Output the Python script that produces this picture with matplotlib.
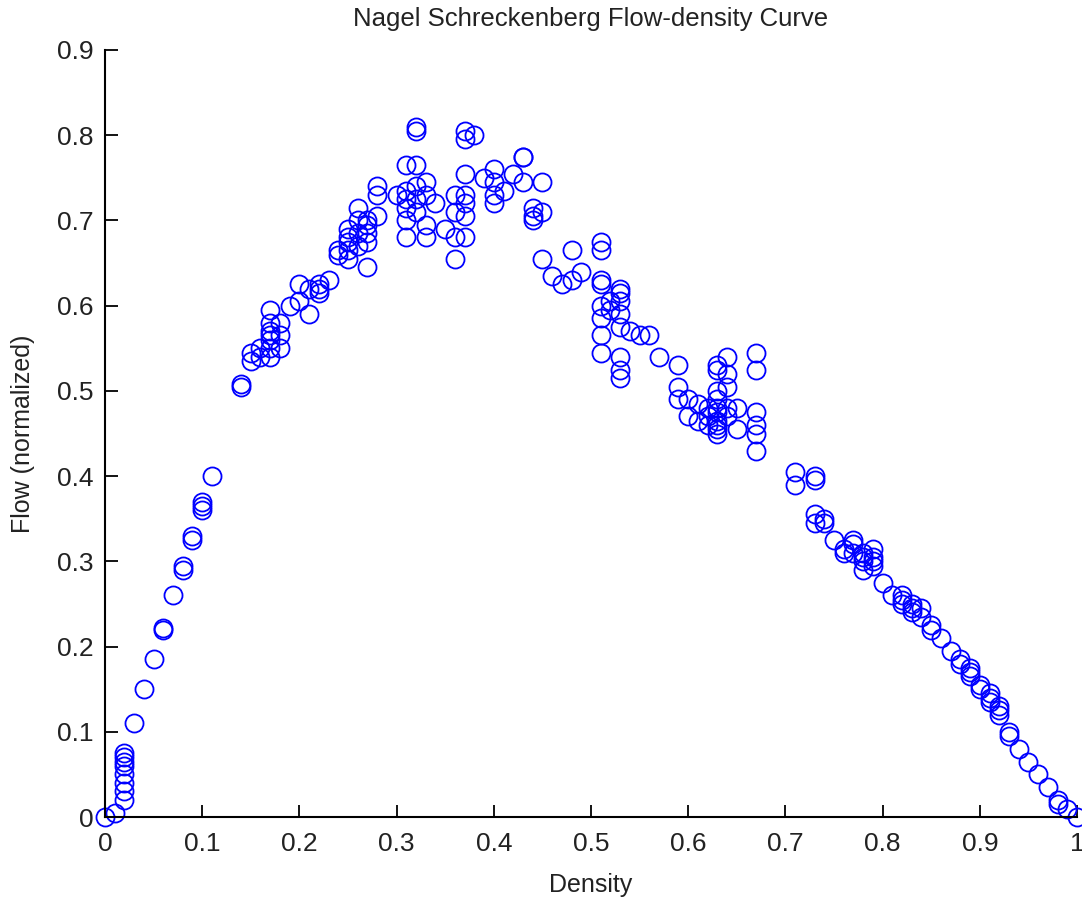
import matplotlib
matplotlib.use("Agg")
import matplotlib.pyplot as plt

plt.rcParams['font.family'] = ['Liberation Sans', 'DejaVu Sans']

# density -> list of flow values observed at that density
densities = [0.00, 0.01, 0.02, 0.03, 0.04, 0.05, 0.06, 0.07, 0.08, 0.09, 0.10, 0.11,
             0.14, 0.15, 0.16, 0.17, 0.18, 0.19, 0.20, 0.21, 0.22, 0.23, 0.24, 0.25,
             0.26, 0.27, 0.28, 0.30, 0.31, 0.32, 0.33, 0.34, 0.35, 0.36, 0.37, 0.38,
             0.39, 0.40, 0.41, 0.42, 0.43, 0.44, 0.45, 0.46, 0.47, 0.48, 0.49, 0.51,
             0.52, 0.53, 0.54, 0.55, 0.56, 0.57, 0.59, 0.60, 0.61, 0.62, 0.63, 0.64,
             0.65, 0.67, 0.71, 0.73, 0.74, 0.75, 0.76, 0.77, 0.78, 0.79, 0.80, 0.81,
             0.82, 0.83, 0.84, 0.85, 0.86, 0.87, 0.88, 0.89, 0.90, 0.91, 0.92, 0.93,
             0.94, 0.95, 0.96, 0.97, 0.98, 0.99, 1.00]
flows = [
    [0.0], [0.005], [0.02, 0.03, 0.04, 0.05, 0.06, 0.065, 0.07, 0.075], [0.11], [0.15],
    [0.185], [0.22, 0.222], [0.26], [0.29, 0.295], [0.325, 0.33], [0.36, 0.365, 0.37], [0.40],
    [0.505, 0.508], [0.535, 0.545], [0.54, 0.55], [0.54, 0.55, 0.56, 0.565, 0.57, 0.58, 0.595],
    [0.55, 0.565, 0.58], [0.60], [0.605, 0.625], [0.59, 0.62], [0.615, 0.62, 0.625], [0.63],
    [0.66, 0.665], [0.655, 0.665, 0.675, 0.68, 0.69], [0.67, 0.685, 0.70, 0.715],
    [0.645, 0.675, 0.685, 0.695, 0.70], [0.705, 0.73, 0.74], [0.73],
    [0.68, 0.70, 0.715, 0.725, 0.735, 0.765], [0.71, 0.725, 0.74, 0.765, 0.805, 0.81],
    [0.68, 0.695, 0.73, 0.745], [0.72], [0.69], [0.655, 0.68, 0.71, 0.73],
    [0.68, 0.705, 0.72, 0.73, 0.755, 0.795, 0.805], [0.80], [0.75], [0.72, 0.73, 0.745, 0.76],
    [0.735], [0.755], [0.745, 0.775, 0.775], [0.70, 0.705, 0.715], [0.655, 0.71, 0.745],
    [0.635], [0.625], [0.63, 0.665], [0.64],
    [0.545, 0.565, 0.585, 0.60, 0.625, 0.63, 0.665, 0.675], [0.595, 0.605],
    [0.515, 0.525, 0.54, 0.575, 0.59, 0.605, 0.615, 0.62], [0.57], [0.565], [0.565], [0.54],
    [0.49, 0.505, 0.53], [0.47, 0.49], [0.465, 0.485], [0.46, 0.47, 0.48],
    [0.45, 0.455, 0.46, 0.465, 0.475, 0.48, 0.49, 0.50, 0.525, 0.53],
    [0.47, 0.48, 0.505, 0.52, 0.54], [0.455, 0.48],
    [0.43, 0.45, 0.46, 0.475, 0.525, 0.545], [0.39, 0.405], [0.345, 0.355, 0.395, 0.40],
    [0.345, 0.35], [0.325], [0.31, 0.315], [0.31, 0.32, 0.325], [0.29, 0.30, 0.305, 0.31],
    [0.295, 0.30, 0.305, 0.315], [0.275], [0.26], [0.25, 0.255, 0.26], [0.24, 0.245, 0.25],
    [0.235, 0.245], [0.22, 0.225], [0.21], [0.195], [0.18, 0.185], [0.165, 0.17, 0.175],
    [0.15, 0.155], [0.135, 0.14, 0.145], [0.12, 0.125, 0.13], [0.095, 0.10], [0.08],
    [0.065], [0.05], [0.035], [0.015, 0.02], [0.01], [0.0],
]

x_ticks = [0, 0.1, 0.2, 0.3, 0.4, 0.5, 0.6, 0.7, 0.8, 0.9, 1]
x_tick_labels = ["0", "0.1", "0.2", "0.3", "0.4", "0.5", "0.6", "0.7", "0.8", "0.9", "1"]
y_ticks = [0, 0.1, 0.2, 0.3, 0.4, 0.5, 0.6, 0.7, 0.8, 0.9]
y_tick_labels = ["0", "0.1", "0.2", "0.3", "0.4", "0.5", "0.6", "0.7", "0.8", "0.9"]

xs, ys = [], []
for d, fl in zip(densities, flows):
    for f in fl:
        xs.append(d)
        ys.append(f)

fig = plt.figure(figsize=(10.82, 9.02), dpi=100)
ax = fig.add_axes([0.097, 0.0942, 0.8984, 0.8504])
ax.plot(xs, ys, linestyle='none', marker='o', markersize=13,
        markerfacecolor='none', markeredgecolor='#0000ff', markeredgewidth=1.3,
        clip_on=False)
ax.set_xlim(0, 1)
ax.set_ylim(0, 0.9)
ax.set_xticks(x_ticks)
ax.set_xticklabels(x_tick_labels)
ax.set_yticks(y_ticks)
ax.set_yticklabels(y_tick_labels)
ax.spines['top'].set_visible(False)
ax.spines['right'].set_visible(False)
for s in ['left', 'bottom']:
    ax.spines[s].set_linewidth(1.5)
ax.tick_params(direction='in', length=9, width=1.3, labelsize=19,
               labelcolor='#222222')
ax.tick_params(axis='x', pad=11)
ax.tick_params(axis='y', pad=8)
ax.set_xlabel('Density', fontsize=18, labelpad=12, color='#222222')
ax.set_ylabel('Flow (normalized)', fontsize=18, labelpad=16, color='#222222')
ax.set_title('Nagel Schreckenberg Flow-density Curve', fontsize=18.5, pad=17,
             color='#222222')
fig.savefig('out.png', dpi=100)
